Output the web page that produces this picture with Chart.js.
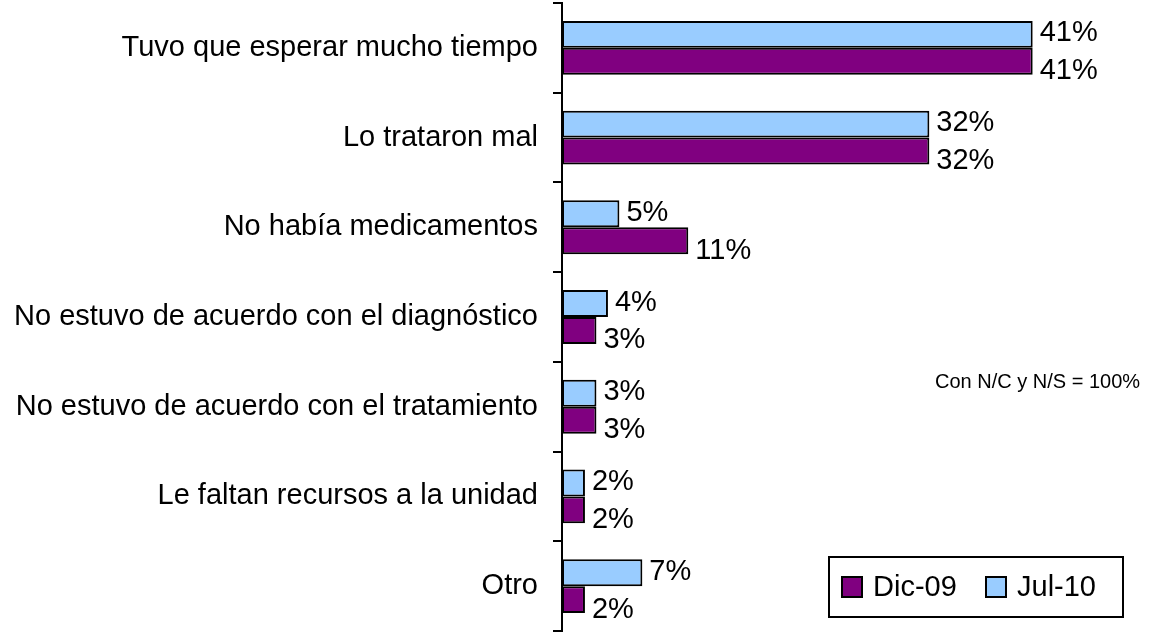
<!DOCTYPE html>
<html>
<head>
<meta charset="utf-8">
<script src="https://cdn.jsdelivr.net/npm/chart.js@4"></script>
<style>
  html, body { margin: 0; padding: 0; background: #fff; }
  #wrap { width: 1152px; height: 634px; }
</style>
</head>
<body>
<div id="wrap"><canvas id="bar-Chart" width="1152" height="634"></canvas></div>
<script>
// -------------------- DATA --------------------
const categories = [
  "Tuvo que esperar mucho tiempo",
  "Lo trataron mal",
  "No había medicamentos",
  "No estuvo de acuerdo con el diagnóstico",
  "No estuvo de acuerdo con el tratamiento",
  "Le faltan recursos a la unidad",
  "Otro",
];
const jul10 = [41, 32, 5, 4, 3, 2, 7];
const dic09 = [41, 32, 11, 3, 3, 2, 2];
const seriesNames = ["Jul-10", "Dic-09"];
const note = "Con N/C y N/S = 100%";

const FONT = "'Liberation Sans', Arial, sans-serif";

// value labels next to each bar (Excel nudges them a bit)
const labelPlugin = {
  id: "valueLabels",
  afterDatasetsDraw(chart) {
    const ctx = chart.ctx;
    const nudge = [-1, 10];
    ctx.save();
    ctx.font = "29px " + FONT;
    ctx.fillStyle = "#000";
    ctx.textBaseline = "middle";
    ctx.textAlign = "left";
    chart.data.datasets.forEach((ds, di) => {
      chart.getDatasetMeta(di).data.forEach((bar, i) => {
        ctx.fillText(ds.data[i] + "%", bar.x + 7, bar.y + nudge[di]);
      });
    });
    ctx.restore();
  },
};

// boxed legend in the lower right + the note
const legendPlugin = {
  id: "boxLegend",
  afterDraw(chart) {
    const ctx = chart.ctx;
    const area = chart.chartArea;
    const right = area.right - 13;
    const bottom = area.bottom - 14;
    const left = right - 294;
    const top = bottom - 60;
    ctx.save();
    ctx.fillStyle = "#fff";
    ctx.fillRect(left, top, right - left, bottom - top);
    ctx.strokeStyle = "#000";
    ctx.lineWidth = 2;
    ctx.strokeRect(left, top, right - left, bottom - top);

    // legend lists Dic-09 first
    const order = [1, 0];
    const xs = [left + 13, left + 157];
    ctx.font = "29px " + FONT;
    ctx.textBaseline = "middle";
    order.forEach((di, k) => {
      const ds = chart.data.datasets[di];
      const cy = (top + bottom) / 2;
      ctx.fillStyle = ds.backgroundColor;
      ctx.fillRect(xs[k], cy - 10, 20, 20);
      ctx.lineWidth = 2;
      ctx.strokeRect(xs[k], cy - 10, 20, 20);
      ctx.fillStyle = "#000";
      ctx.fillText(ds.label, xs[k] + 31, cy + 1);
    });

    ctx.font = "20px " + FONT;
    ctx.fillText(note, 935, 382);
    ctx.restore();
  },
};

const ctx = document.getElementById("bar-Chart");

new Chart(ctx, {
  type: "bar",
  data: {
    labels: categories,
    datasets: [
      {
        label: seriesNames[0],
        data: jul10,
        backgroundColor: "#99CCFF",
        borderColor: "#000",
        borderWidth: 2,
        borderSkipped: false,
      },
      {
        label: seriesNames[1],
        data: dic09,
        backgroundColor: "#800080",
        borderColor: "#000",
        borderWidth: 2,
        borderSkipped: false,
      },
    ],
  },
  options: {
    indexAxis: "y",
    responsive: false,
    animation: false,
    devicePixelRatio: 1,
    categoryPercentage: 0.6,
    barPercentage: 1,
    layout: { padding: { top: 3, bottom: 3, left: 0, right: 16 } },
    plugins: {
      legend: { display: false },
      tooltip: { enabled: false },
    },
    scales: {
      x: {
        display: false,
        min: 0,
        max: 50,
      },
      y: {
        afterFit: (scale) => {
          scale.width = 562;
          scale.paddingTop = 0;
          scale.paddingBottom = 0;
        },
        grid: {
          drawOnChartArea: false,
          drawTicks: true,
          tickLength: 9,
          color: "#000",
          lineWidth: 2,
        },
        border: { display: true, color: "#000", width: 2 },
        ticks: {
          color: "#000",
          padding: 15,
          font: { family: FONT, size: 29 },
        },
      },
    },
  },
  plugins: [labelPlugin, legendPlugin],
});
</script>
</body>
</html>
